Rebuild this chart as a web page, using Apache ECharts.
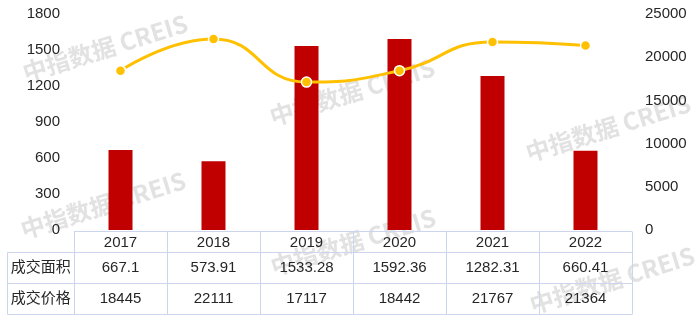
<!DOCTYPE html>
<html>
<head>
<meta charset="utf-8">
<script src="https://cdn.jsdelivr.net/npm/echarts@6/dist/echarts.min.js"></script>
<style>
html,body{margin:0;padding:0;background:#fff;}
#c{width:700px;height:322px;}
</style>
</head>
<body>
<div id="c"></div>
<script>
const categories = ['2017','2018','2019','2020','2021','2022'];
const areaValues = [667.1, 573.91, 1533.28, 1592.36, 1282.31, 660.41];
const priceValues = [18445, 22111, 17117, 18442, 21767, 21364];
const areaLabels = ['667.1','573.91','1533.28','1592.36','1282.31','660.41'];
const priceLabels = ['18445','22111','17117','18442','21767','21364'];
const rowNames = ['成交面积','成交价格'];
const watermarkText = '中指数据 CREIS';

const FONT = '"Liberation Sans", Arial, "Noto Sans CJK SC", sans-serif';
const GL = 74, GR = 68, GT = 14, GB = 92;
const W = 700, H = 322;
const chart = echarts.init(document.getElementById('c'), null, {renderer: 'canvas'});
const plain = v => String(v);

const option = {
  animation: false,
  backgroundColor: '#ffffff',
  grid: {left: GL, right: GR, top: GT, bottom: GB, containLabel: false},
  xAxis: {
    type: 'category',
    data: categories,
    axisLine: {show: false},
    axisTick: {show: false},
    axisLabel: {color: '#262626', fontSize: 15, fontFamily: FONT, margin: 5}
  },
  yAxis: [
    {type: 'value', min: 0, max: 1800, interval: 300,
     axisLine: {show: false}, axisTick: {show: false}, splitLine: {show: false},
     axisLabel: {color: '#262626', fontSize: 15, fontFamily: FONT, margin: 14, formatter: plain}},
    {type: 'value', min: 0, max: 25000, interval: 5000,
     axisLine: {show: false}, axisTick: {show: false}, splitLine: {show: false},
     axisLabel: {color: '#262626', fontSize: 15, fontFamily: FONT, margin: 13, formatter: plain}}
  ],
  series: [
    {type: 'bar', data: areaValues, barWidth: 24, yAxisIndex: 0, z: 2,
     itemStyle: {color: '#C00000'}},
    {type: 'line', data: priceValues, yAxisIndex: 1, smooth: 0.5, z: 3,
     symbol: 'circle', symbolSize: 10,
     lineStyle: {color: '#FFC000', width: 3},
     itemStyle: {color: '#FFC000', borderColor: '#ffffff', borderWidth: 1.5}}
  ]
};
chart.setOption(option);

const gw = W - GL - GR;
const step = gw / categories.length;
const lineColor = '#cdd4ee';
const yTop = 231.5, y1 = 252.5, y2 = 283.5, y3 = 314.5;
const xLeft = 7.5, xR = GL + gw;
const g = [];
function line(x1, yA, x2, yB) {
  g.push({type: 'line', silent: true, z: 10,
    shape: {x1: x1, y1: yA, x2: x2, y2: yB},
    style: {stroke: lineColor, lineWidth: 1}});
}
line(GL, yTop, xR, yTop);
line(xLeft, y1, xR, y1);
line(xLeft, y2, xR, y2);
line(xLeft, y3, xR, y3);
line(xLeft, y1, xLeft, y3);
for (let i = 0; i <= categories.length; i++) {
  const x = Math.round(GL + i * step) + 0.5;
  line(x, yTop, x, y3);
}
function txt(x, y, s) {
  g.push({type: 'text', silent: true, z: 11, x: x, y: y,
    style: {text: s, fill: '#262626', font: '15px ' + FONT, align: 'center', verticalAlign: 'middle'}});
}
txt((xLeft + GL) / 2, (y1 + y2) / 2, rowNames[0]);
txt((xLeft + GL) / 2, (y2 + y3) / 2, rowNames[1]);
categories.forEach((c, i) => {
  const cx = chart.convertToPixel({xAxisIndex: 0}, c);
  txt(cx, (y1 + y2) / 2, areaLabels[i]);
  txt(cx, (y2 + y3) / 2, priceLabels[i]);
});
const wmPos = [[105, 48], [352, 92], [608, 128], [103, 205], [353, 242], [612, 280]];
wmPos.forEach(p => {
  g.push({type: 'text', silent: true, z: -1, zlevel: 0, x: p[0], y: p[1], rotation: 0.3,
    style: {text: watermarkText, fill: '#e2e2e2', font: 'bold 24px "Noto Sans CJK SC", "Liberation Sans", sans-serif',
      align: 'center', verticalAlign: 'middle'}});
});
chart.setOption({graphic: g});
</script>
</body>
</html>
